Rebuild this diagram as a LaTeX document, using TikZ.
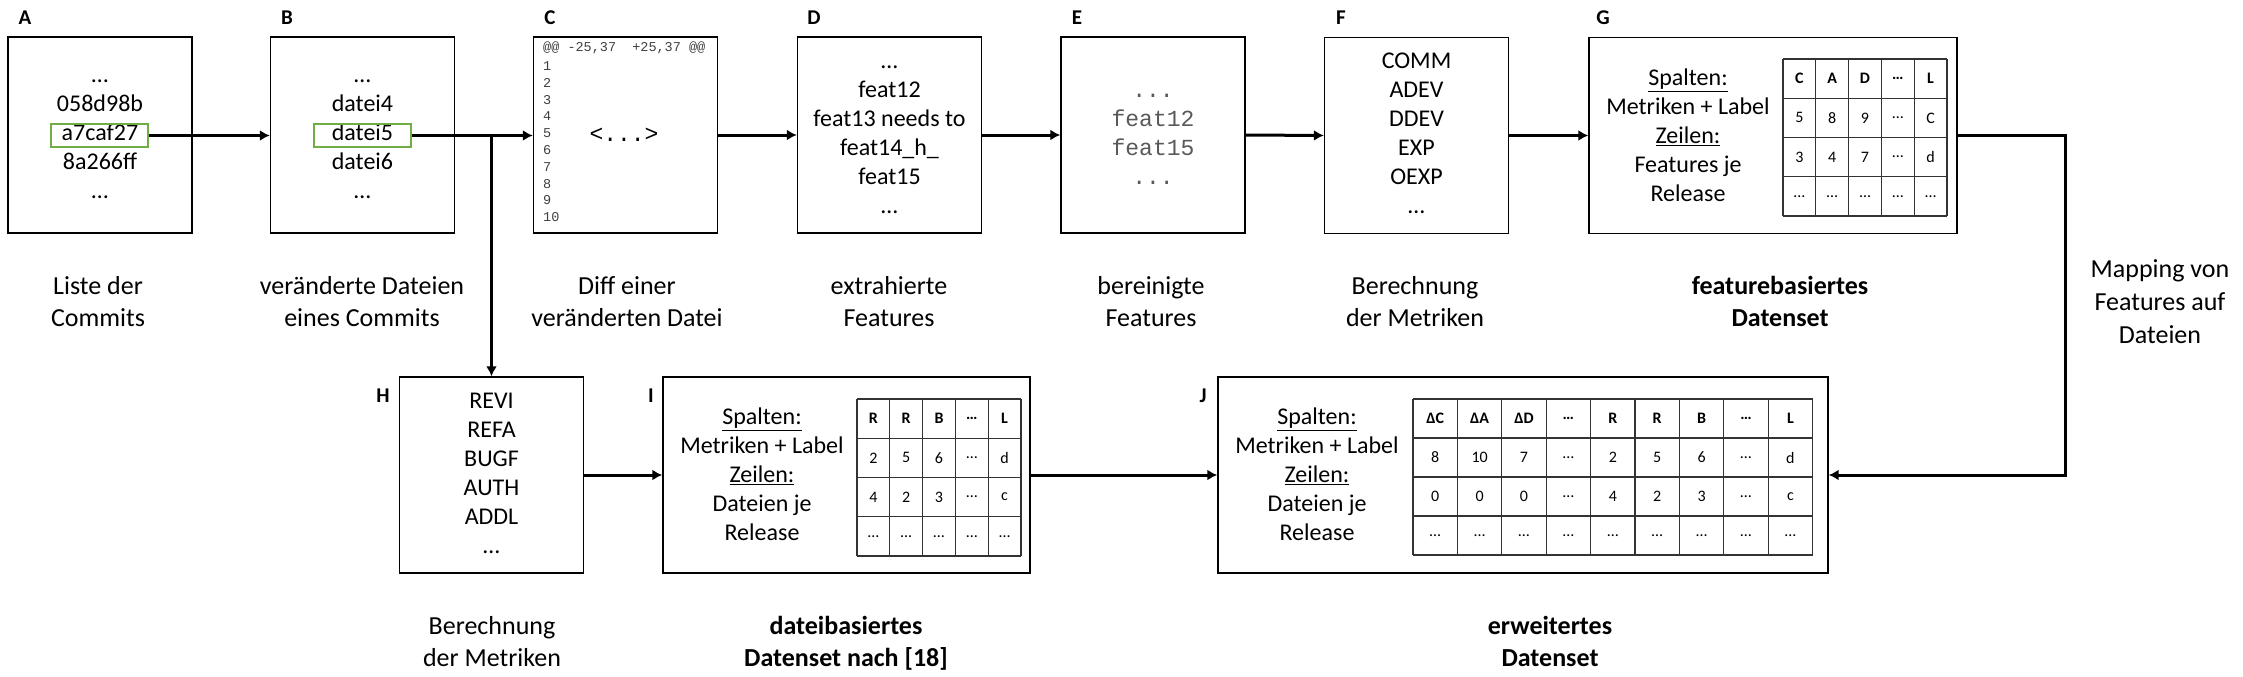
\documentclass[tikz,border=0pt]{standalone}
\usepackage{fontspec}
\setmainfont{Carlito}
\newfontfamily\monof{Liberation Mono}
\usetikzlibrary{arrows.meta}
\definecolor{okgreen}{RGB}{112,173,71}
\begin{document}
\begin{tikzpicture}[x=1pt,y=-1pt,
  pbox/.style={draw, line width=1.4pt, minimum width=184pt, minimum height=196pt, inner sep=0pt, align=center, font=\fontsize{24}{29}\selectfont},
  lettr/.style={font=\bfseries\fontsize{21}{25}\selectfont, inner sep=0pt},
  capt/.style={align=center, font=\fontsize{26}{32}\selectfont, inner sep=0pt},
  bcapt/.style={align=center, font=\bfseries\fontsize{26}{32}\selectfont, inner sep=0pt},
  btext/.style={align=center, font=\fontsize{24}{29}\selectfont, inner sep=0pt},
  arrw/.style={line width=3pt, -{Latex[length=10pt,width=11pt]}},
  selbox/.style={draw=okgreen, line width=1.5pt, minimum width=97pt, minimum height=23pt, inner sep=0pt},
  tline/.style={line width=1.1pt, draw=black!80},
  tcell/.style={font=\fontsize{16}{19}\selectfont, inner sep=0pt},
  monosm/.style={font=\monof\fontsize{13.5}{16}\selectfont, inner sep=0pt, text=black!75, anchor=west}
]
\useasboundingbox (0,0) rectangle (2243,677);

% ---------- top row boxes ----------
\node[pbox] (A) at (100,135) {\strut…\\058d98b\\a7caf27\\8a266ff\\…\strut};
\node[selbox] (a5) at (99.5,135.5) {};
\node[pbox] (B) at (362.5,135) {\strut…\\datei4\\datei5\\datei6\\…\strut};
\node[selbox] (b5) at (362.5,135.5) {};
\node[pbox] (C) at (625.5,135) {};
\node[pbox] (D) at (889.5,135) {\strut…\\feat12\\feat13 needs to\\feat14\_h\_\\feat15\\…\strut};
\node[pbox, font=\monof\fontsize{23}{29}\selectfont, text=black!65] (E) at (1153,135) {\strut...\\feat12\\feat15\\...\strut};
\node[pbox] (F) at (1416.5,135.5) {\strut COMM\\ADEV\\DDEV\\EXP\\OEXP\\…\strut};
\node[pbox, minimum width=368pt] (G) at (1773,135.5) {};

% diff content
\node[monosm] (chd) at (543,48) {@@ -25,37\ \ +25,37 @@};
\foreach \n in {1,...,10}
  \node[monosm] (cn\n) at (543,{66+16.8*(\n-1)}) {\n};
\node[font=\monof\fontsize{23}{28}\selectfont, inner sep=0pt] (cdots) at (624,135) {<...>};

% G content
\node[btext] (gtxt) at (1688,138) {\strut\underline{Spalten:}\\Metriken + Label\\\underline{Zeilen:}\\Features je\\Release\strut};
\foreach \i in {0,...,5} \draw[tline] ({1783+\i*32.8},59) -- ({1783+\i*32.8},216);
\foreach \j in {0,...,4} \draw[tline] (1783,{59+\j*39.25}) -- (1947,{59+\j*39.25});
\foreach \r [count=\j from 0] in {{\textbf{C},\textbf{A},\textbf{D},\textbf{…},\textbf{L}},{5,8,9,…,C},{3,4,7,…,d},{…,…,…,…,…}}
  {\foreach \c [count=\i from 0] in \r
    {\node[tcell] (g-\j-\i) at ({1783+(\i+0.5)*32.8},{59+(\j+0.5)*39.25}) {\c};}}

% ---------- bottom row boxes ----------
\node[pbox] (H) at (491.5,475) {\strut REVI\\REFA\\BUGF\\AUTH\\ADDL\\…\strut};
\node[pbox, minimum width=367pt] (I) at (846.5,475) {};
\node[pbox, minimum width=610pt] (J) at (1523,475) {};

\node[btext] (itxt) at (762,477) {\strut\underline{Spalten:}\\Metriken + Label\\\underline{Zeilen:}\\Dateien je\\Release\strut};
\foreach \i in {0,...,5} \draw[tline] ({857+\i*32.8},399) -- ({857+\i*32.8},556);
\foreach \j in {0,...,4} \draw[tline] (857,{399+\j*39.25}) -- (1021,{399+\j*39.25});
\foreach \r [count=\j from 0] in {{\textbf{R},\textbf{R},\textbf{B},\textbf{…},\textbf{L}},{2,5,6,…,d},{4,2,3,…,c},{…,…,…,…,…}}
  {\foreach \c [count=\i from 0] in \r
    {\node[tcell] (i-\j-\i) at ({857+(\i+0.5)*32.8},{399+(\j+0.5)*39.25}) {\c};}}

\node[btext] (jtxt) at (1317,477) {\strut\underline{Spalten:}\\Metriken + Label\\\underline{Zeilen:}\\Dateien je\\Release\strut};
\foreach \i in {0,...,9} \draw[tline] ({1413+\i*44.4},399) -- ({1413+\i*44.4},555);
\foreach \j in {0,...,4} \draw[tline] (1413,{399+\j*39}) -- (1812.6,{399+\j*39});
\foreach \r [count=\j from 0] in {{\textbf{ΔC},\textbf{ΔA},\textbf{ΔD},\textbf{…},\textbf{R},\textbf{R},\textbf{B},\textbf{…},\textbf{L}},{8,10,7,…,2,5,6,…,d},{0,0,0,…,4,2,3,…,c},{…,…,…,…,…,…,…,…,…}}
  {\foreach \c [count=\i from 0] in \r
    {\node[tcell] (j-\j-\i) at ({1413+(\i+0.5)*44.4},{399+(\j+0.5)*39}) {\c};}}

% ---------- letters ----------
\node[lettr] (lA) at (25,18) {A};
\node[lettr] (lB) at (287,18) {B};
\node[lettr] (lC) at (550,18) {C};
\node[lettr] (lD) at (814,18) {D};
\node[lettr] (lE) at (1077,18) {E};
\node[lettr] (lF) at (1341,18) {F};
\node[lettr] (lG) at (1603,18) {G};
\node[lettr] (lH) at (383,396) {H};
\node[lettr] (lI) at (651,396) {I};
\node[lettr] (lJ) at (1203,396) {J};

% ---------- captions ----------
\node[capt] (cA) at (98,304) {\strut Liste der\\Commits\strut};
\node[capt] (cB) at (362,304) {\strut veränderte Dateien\\eines Commits\strut};
\node[capt] (cC) at (627,304) {\strut Diff einer\\veränderten Datei\strut};
\node[capt] (cD) at (889,304) {\strut extrahierte\\Features\strut};
\node[capt] (cE) at (1151,304) {\strut bereinigte\\Features\strut};
\node[capt] (cF) at (1415,304) {\strut Berechnung\\der Metriken\strut};
\node[bcapt] (cG) at (1780,304) {\strut featurebasiertes\\Datenset\strut};
\node[capt] (cH) at (492,644) {\strut Berechnung\\der Metriken\strut};
\node[bcapt] (cI) at (846,644) {\strut dateibasiertes\\Datenset nach [18]\strut};
\node[bcapt] (cJ) at (1550,644) {\strut erweitertes\\Datenset\strut};
\node[capt, font=\fontsize{26}{33}\selectfont] (map) at (2160,304) {\strut Mapping von\\Features auf\\Dateien\strut};

% ---------- connectors ----------
\draw[arrw] (a5.east) -- (B.west |- a5.east);
\draw[arrw] (b5.east) -- (C.west |- b5.east);
\draw[arrw] (b5.east -| H.north) -- (H.north);
\draw[arrw] (C.east) -- (D.west);
\draw[arrw] (D.east) -- (E.west);
\draw[arrw] (E.east) -- (F.west);
\draw[arrw] (F.east) -- (G.west);
\coordinate (gm) at (2065,135.5);
\draw[arrw] (G.east) -- (gm) |- (J.east);
\draw[arrw] (H.east) -- (I.west);
\draw[arrw] (I.east) -- (J.west);
\end{tikzpicture}
\end{document}
